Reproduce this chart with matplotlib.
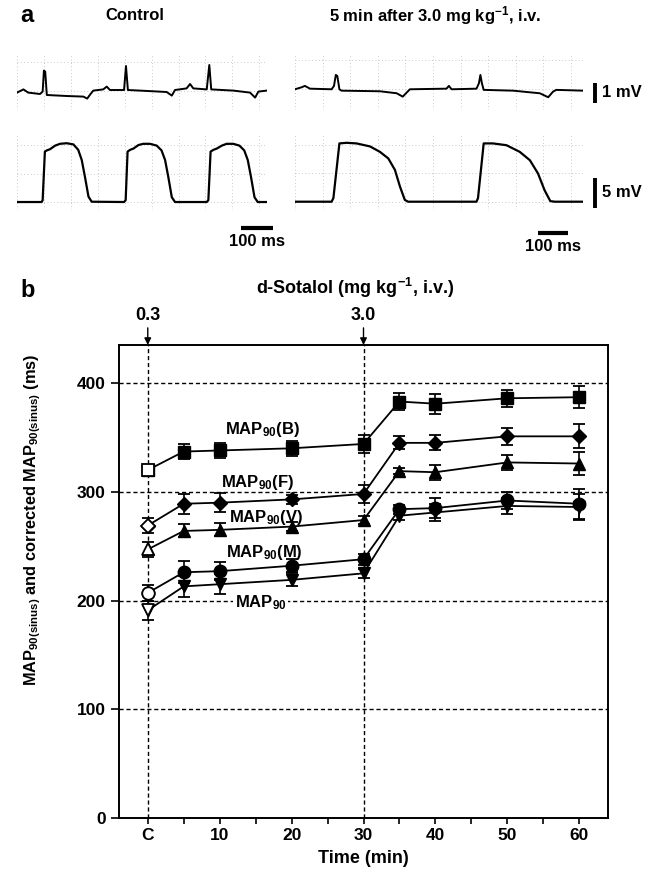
import numpy as np
import matplotlib.pyplot as plt
from matplotlib.ticker import MultipleLocator

plt.rcParams['font.family'] = ['Liberation Sans', 'DejaVu Sans']
plt.rcParams['font.weight'] = 'bold'
plt.rcParams['axes.labelweight'] = 'bold'
plt.rcParams['mathtext.fontset'] = 'custom'
plt.rcParams['mathtext.rm'] = 'Liberation Sans:bold'
plt.rcParams['mathtext.it'] = 'Liberation Sans:bold'
plt.rcParams['mathtext.bf'] = 'Liberation Sans:bold'
plt.rcParams['mathtext.sf'] = 'Liberation Sans:bold'

# ---- panel a: recordings (time in ms, amplitude in mV)
ctrl_ecg_t = [0, 20, 35, 72, 80, 84, 88, 93, 155, 207, 219, 228, 238, 269, 280, 290,
              334, 340, 346, 384, 467, 483, 493, 529, 540, 550, 592, 600, 606, 675,
              727, 743, 753, 779]
ctrl_ecg_v = [-0.08, 0.08, -0.08, -0.15, -0.03, 1.02, 0.97, -0.2, -0.25, -0.28, -0.38,
              -0.18, 0.02, 0.08, 0.22, 0.05, 0.05, 1.25, 0.05, 0.02, -0.05, -0.23, 0.05,
              0.13, 0.35, 0.13, 0.08, 1.3, 0.08, 0.02, -0.08, -0.33, -0.03, 0.02]

ctrl_map_t = [0, 77, 80, 87, 93, 103, 119, 134, 155, 176, 191, 202, 212, 223, 233,
              334, 339, 345, 353, 363, 379, 394, 415, 436, 451, 462, 472, 483, 493,
              592, 597, 604, 613, 623, 639, 654, 675, 694, 709, 720, 730, 741, 751, 779]
ctrl_map_v = [0, 0, 0.3, 8.4, 8.6, 8.8, 9.4, 9.7, 9.8, 9.6, 8.7, 7.0, 4.2, 0.9, 0.05,
              0, 0.3, 8.4, 8.7, 8.9, 9.5, 9.7, 9.7, 9.4, 8.6, 7.0, 4.2, 0.8, 0,
              0, 0.3, 8.4, 8.7, 8.9, 9.4, 9.7, 9.7, 9.4, 8.6, 7.0, 4.2, 0.8, 0, 0]

drug_ecg_t = [0, 22, 33, 50, 122, 130, 136, 141, 148, 155, 283, 339, 359, 370, 383,
              505, 513, 522, 605, 613, 618, 623, 629, 727, 816, 844, 860, 871, 960]
drug_ecg_v = [0, 0.1, 0.17, 0.03, 0, 0.17, 0.72, 0.67, 0, -0.07, -0.1, -0.2, -0.37,
              -0.2, 0, 0.03, 0.17, 0, 0.03, 0.3, 0.72, 0.3, -0.03, -0.07, -0.2, -0.4,
              -0.12, -0.03, -0.07]

drug_map_t = [0, 122, 128, 148, 172, 205, 250, 283, 311, 333, 350, 366, 377,
              605, 610, 629, 660, 705, 749, 783, 810, 832, 851, 866, 960]
drug_map_v = [0, 0, 0.6, 9.7, 9.8, 9.7, 9.2, 8.3, 7.2, 5.3, 2.5, 0.3, 0,
              0, 0.6, 9.7, 9.7, 9.4, 8.3, 6.9, 4.7, 1.9, 0.1, 0, 0]

# ---- panel b: MAP90 values (ms, mean +/- s.e.m.)
times = [0, 5, 10, 20, 30, 35, 40, 50, 60]
xtick_pos = [0, 10, 20, 30, 40, 50, 60]
xtick_labels = ['C', '10', '20', '30', '40', '50', '60']

map_b = [320, 337, 338, 340, 344, 383, 381, 386, 387]
map_b_err = [4, 7, 7, 7, 8, 8, 9, 8, 10]
map_f = [269, 289, 290, 293, 298, 345, 345, 351, 351]
map_f_err = [7, 9, 9, 4, 8, 6, 7, 8, 11]
map_v = [247, 264, 265, 268, 274, 319, 318, 327, 326]
map_v_err = [7, 6, 6, 4, 4, 3, 7, 7, 11]
map_m = [207, 226, 227, 232, 238, 284, 285, 292, 289]
map_m_err = [7, 10, 8, 6, 5, 4, 9, 8, 14]
map90 = [191, 213, 215, 219, 225, 278, 281, 287, 286]
map90_err = [9, 10, 9, 6, 4, 4, 8, 7, 12]

fig = plt.figure(figsize=(6.57, 8.8), dpi=100)
W, H = 657.0, 880.0


def px_axes(x0, y0, w, h):
    # figure pixel box (top-left origin) -> axes
    return fig.add_axes([x0 / W, 1 - (y0 + h) / H, w / W, h / H])


def scope(ax, xstep, ystep):
    ax.xaxis.set_major_locator(MultipleLocator(xstep))
    ax.yaxis.set_major_locator(MultipleLocator(ystep))
    ax.grid(True, color='0.72', lw=0.6, ls=(0, (1, 3)))
    ax.tick_params(length=0, labelbottom=False, labelleft=False)
    for s in ax.spines.values():
        s.set_visible(False)


ax1 = px_axes(17, 55, 250, 55)
ax1.plot(ctrl_ecg_t, ctrl_ecg_v, color='k', lw=1.4)
ax1.set_xlim(0, 780)
ax1.set_ylim(-0.95, 1.8)
scope(ax1, 84, 1.45)

ax2 = px_axes(17, 135, 250, 75)
ax2.plot(ctrl_map_t, ctrl_map_v, color='k', lw=1.6)
ax2.set_xlim(0, 780)
ax2.set_ylim(-1.33, 11.17)
scope(ax2, 84, 4.75)
ax2.plot([698, 798], [-4.35, -4.35], color='k', lw=3, clip_on=False, solid_capstyle='butt')
ax2.text(748, -6.6, '100 ms', ha='center', va='center', fontsize=12)

ax3 = px_axes(295, 55, 288, 55)
ax3.plot(drug_ecg_t, drug_ecg_v, color='k', lw=1.4)
ax3.set_xlim(0, 960)
ax3.set_ylim(-1.04, 1.72)
scope(ax3, 92, 1.45)
ax3.plot([1000, 1000], [0.32, -0.68], color='k', lw=2.8, clip_on=False, solid_capstyle='butt')
ax3.text(1022, -0.18, '1 mV', ha='left', va='center', fontsize=12)

ax4 = px_axes(295, 135, 288, 75)
ax4.plot(drug_map_t, drug_map_v, color='k', lw=1.6)
ax4.set_xlim(0, 960)
ax4.set_ylim(-1.38, 11.1)
scope(ax4, 92, 4.75)
ax4.plot([1000, 1000], [3.95, -1.05], color='k', lw=2.8, clip_on=False, solid_capstyle='butt')
ax4.text(1022, 1.45, '5 mV', ha='left', va='center', fontsize=12)
ax4.plot([810, 910], [-5.2, -5.2], color='k', lw=3, clip_on=False, solid_capstyle='butt')
ax4.text(860, -7.4, '100 ms', ha='center', va='center', fontsize=12)

fig.text(20 / W, 1 - 15 / H, 'a', fontsize=17, ha='left', va='center')
fig.text(135 / W, 1 - 16 / H, 'Control', fontsize=12, ha='center', va='center')
fig.text(435 / W, 1 - 16 / H, r'5 min after 3.0 mg kg$^{-1}$, i.v.', fontsize=12,
         ha='center', va='center')
fig.text(20 / W, 1 - 290 / H, 'b', fontsize=17, ha='left', va='center')
fig.text(355 / W, 1 - 288 / H, r'd-Sotalol (mg kg$^{-1}$, i.v.)', fontsize=13,
         ha='center', va='center')

# ---- panel b
ax = px_axes(119, 345, 489, 473)
series = [(map_b, map_b_err, 's', 8.5),
          (map_f, map_f_err, 'D', 7.0),
          (map_v, map_v_err, '^', 9.0),
          (map_m, map_m_err, 'o', 9.0),
          (map90, map90_err, 'v', 9.0)]
for vals, err, mk, size in series:
    ax.errorbar(times, vals, yerr=err, color='k', lw=1.3, elinewidth=1.2,
                capsize=4, capthick=1.3, marker=mk, ms=size, mfc='k', mec='k', zorder=3)
    ax.plot(times[0], vals[0], marker=mk, ms=size, mfc='white', mec='k', mew=1.3,
            ls='none', zorder=4)

for y in [100, 200, 300, 400]:
    ax.axhline(y, color='k', lw=1.0, ls=(0, (3, 2)), zorder=1)
for x, dose in [(0, '0.3'), (30, '3.0')]:
    ax.axvline(x, color='k', lw=1.0, ls=(0, (3, 2)), zorder=1)
    ax.annotate(dose, xy=(x, 1.0), xycoords=('data', 'axes fraction'),
                xytext=(x, 1.045), textcoords=('data', 'axes fraction'),
                ha='center', va='bottom', fontsize=13, annotation_clip=False,
                arrowprops=dict(arrowstyle='-|>', color='k', lw=1.0,
                                mutation_scale=10, shrinkA=1, shrinkB=0))

lab_kw = dict(ha='center', va='center', fontsize=12, zorder=5)
ax.text(16.0, 357, r'MAP$_{90}$(B)', **lab_kw)
ax.text(15.2, 309, r'MAP$_{90}$(F)', **lab_kw)
ax.text(16.4, 276, r'MAP$_{90}$(V)', **lab_kw)
ax.text(16.2, 244, r'MAP$_{90}$(M)', **lab_kw)
ax.text(15.7, 198, r'MAP$_{90}$',
        bbox=dict(facecolor='white', edgecolor='none', pad=1.5), **lab_kw)

ax.set_xlim(-4, 64)
ax.set_ylim(0, 435)
ax.set_xticks(xtick_pos)
ax.set_xticklabels(xtick_labels)
ax.set_xticks([5, 15, 25, 35, 45, 55], minor=True)
ax.set_yticks([0, 100, 200, 300, 400])
ax.tick_params(axis='both', which='both', direction='out', length=4, width=1.2,
               labelsize=12.5)
ax.tick_params(axis='y', length=6)
for s in ax.spines.values():
    s.set_linewidth(1.4)

ax.set_xlabel('Time (min)', fontsize=13, fontweight='bold', labelpad=5)
ax.set_ylabel(r'MAP$_{\mathrm{90(sinus)}}$ and corrected MAP$_{\mathrm{90(sinus)}}$ (ms)',
              fontsize=11.8, fontweight='bold')
ax.yaxis.set_label_coords(-0.155, 0.63)

fig.savefig('out.png', dpi=100)
